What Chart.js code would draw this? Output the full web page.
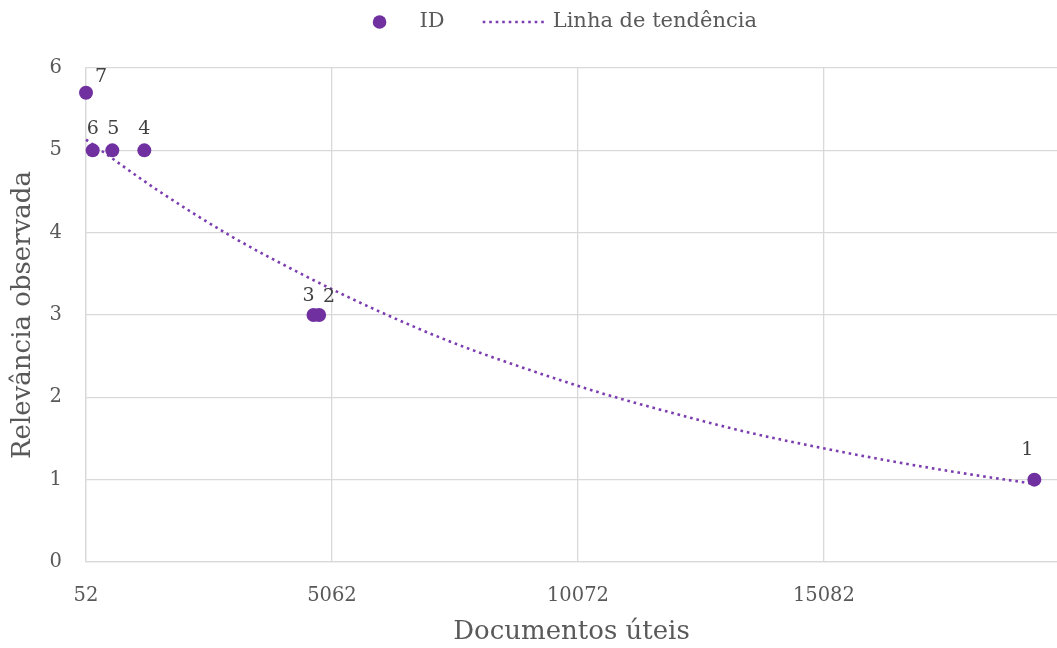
<!DOCTYPE html>
<html>
<head>
<meta charset="utf-8">
<title>Relevância observada × Documentos úteis</title>
<script src="https://cdn.jsdelivr.net/npm/chart.js@4/dist/chart.umd.min.js"></script>
<style>
  html, body { margin: 0; padding: 0; background: #ffffff; }
  #wrap { width: 1057px; height: 648px; position: relative; }
</style>
</head>
<body>
<div id="wrap"><canvas id="chart" width="1057" height="648"></canvas></div>
<script>
// Observed points: useful documents vs. observed relevance, one per ID
const ids       = ['1', '2', '3', '4', '5', '6', '7'];
const documents = [19369, 4800, 4686, 1240, 588, 188, 52];
const relevance = [1, 3, 3, 5, 5, 5, 5.7];

// Exponential trend line, sampled along the x range
const trendX = [52, 1500, 3000, 4500, 6000, 7500, 9000, 10500, 12000, 13500, 15000, 16500, 18000, 19369];
const trendY = [5.13, 4.52, 3.96, 3.48, 3.05, 2.67, 2.35, 2.06, 1.81, 1.58, 1.39, 1.22, 1.07, 0.95];

// Axis ticks
const xTicks = [52, 5062, 10072, 15082];
const yTicks = [0, 1, 2, 3, 4, 5, 6];

const labelText  = ['ID', 'Linha de tendência'];
const xTitle = 'Documentos úteis';
const yTitle = 'Relevância observada';

// Label placement around each marker (dx, dy in px)
const labelOffsets = [[-7, -30], [10, -18], [-5, -19], [0, -21], [1, -21], [0, -21], [15, -16]];

const PURPLE = '#7030A0';
const TEXT = '#595959';
const GRID = '#D9D9D9';
const FONT = "'DejaVu Serif', 'Liberation Serif', serif";

const points = documents.map((x, i) => ({ x: x, y: relevance[i] }));
const trend = trendX.map((x, i) => ({ x: x, y: trendY[i] }));

// Number labels next to each marker
const pointLabels = {
  id: 'pointLabels',
  afterDatasetsDraw(chart) {
    const ctx = chart.ctx;
    const meta = chart.getDatasetMeta(0);
    ctx.save();
    ctx.font = '19px ' + FONT;
    ctx.fillStyle = '#404040';
    ctx.textAlign = 'center';
    ctx.textBaseline = 'middle';
    meta.data.forEach((el, i) => {
      const off = labelOffsets[i];
      ctx.fillText(ids[i], el.x + off[0], el.y + off[1]);
    });
    ctx.restore();
  }
};

// Legend row above the plot
const topLegend = {
  id: 'topLegend',
  afterDraw(chart) {
    const ctx = chart.ctx;
    const area = chart.chartArea;
    ctx.save();
    ctx.font = '21px ' + FONT;
    ctx.textBaseline = 'middle';
    const y = 22;
    const w0 = ctx.measureText(labelText[0]).width;
    const w1 = ctx.measureText(labelText[1]).width;
    const total = 6.5 + 40 + w0 + 38 + 62 + 8 + w1;
    let x = (area.left + area.right) / 2 - total / 2;
    // marker
    ctx.beginPath();
    ctx.arc(x, y, 6.8, 0, Math.PI * 2);
    ctx.fillStyle = PURPLE;
    ctx.fill();
    x += 40;
    ctx.fillStyle = TEXT;
    ctx.fillText(labelText[0], x, y);
    x += w0 + 38;
    // dotted line sample
    ctx.beginPath();
    ctx.strokeStyle = '#7B3DB0';
    ctx.lineWidth = 2.6;
    ctx.setLineDash([2.6, 3.9]);
    ctx.moveTo(x, y);
    ctx.lineTo(x + 62, y);
    ctx.stroke();
    ctx.setLineDash([]);
    x += 62 + 8;
    ctx.fillText(labelText[1], x, y);
    ctx.restore();
  }
};

new Chart(document.getElementById('chart'), {
  type: 'scatter',
  data: {
    datasets: [
      {
        label: labelText[0],
        data: points,
        backgroundColor: PURPLE,
        borderColor: PURPLE,
        pointRadius: 7,
        pointHoverRadius: 7,
        borderWidth: 0,
        clip: false,
        order: 0
      },
      {
        label: labelText[1],
        data: trend,
        showLine: true,
        fill: false,
        borderColor: '#7B3DB0',
        borderWidth: 2.6,
        borderDash: [2.6, 3.9],
        cubicInterpolationMode: 'monotone',
        pointRadius: 0,
        pointHoverRadius: 0,
        clip: false,
        order: 1
      }
    ]
  },
  options: {
    responsive: false,
    animation: false,
    devicePixelRatio: 1,
    layout: { autoPadding: false, padding: { top: 68, left: 0, right: 0, bottom: 0 } },
    plugins: {
      legend: { display: false },
      tooltip: { enabled: false }
    },
    scales: {
      x: {
        type: 'linear',
        min: 52,
        max: 19830,
        afterBuildTicks(scale) { scale.ticks = xTicks.map(v => ({ value: v })); },
        afterFit(scale) { scale.height = 86; },
        grid: { color: GRID, lineWidth: 1.3, drawTicks: false },
        border: { color: GRID, width: 1.3 },
        ticks: {
          color: TEXT,
          font: { family: FONT, size: 19.5 },
          padding: 22,
          maxRotation: 0,
          callback: v => String(v)
        },
        title: {
          display: true,
          text: xTitle,
          color: TEXT,
          font: { family: FONT, size: 26 },
          padding: { top: 0, bottom: 0 }
        }
      },
      y: {
        type: 'linear',
        min: 0,
        max: 6,
        afterBuildTicks(scale) { scale.ticks = yTicks.map(v => ({ value: v })); },
        afterFit(scale) { scale.width = 86; },
        grid: { color: GRID, lineWidth: 1.3, drawTicks: false },
        border: { color: GRID, width: 1.3 },
        ticks: {
          color: TEXT,
          font: { family: FONT, size: 19.5 },
          padding: 24
        },
        title: {
          display: true,
          text: yTitle,
          color: TEXT,
          font: { family: FONT, size: 26 },
          padding: { top: 8, bottom: 0 }
        }
      }
    }
  },
  plugins: [pointLabels, topLegend]
});
</script>
</body>
</html>
